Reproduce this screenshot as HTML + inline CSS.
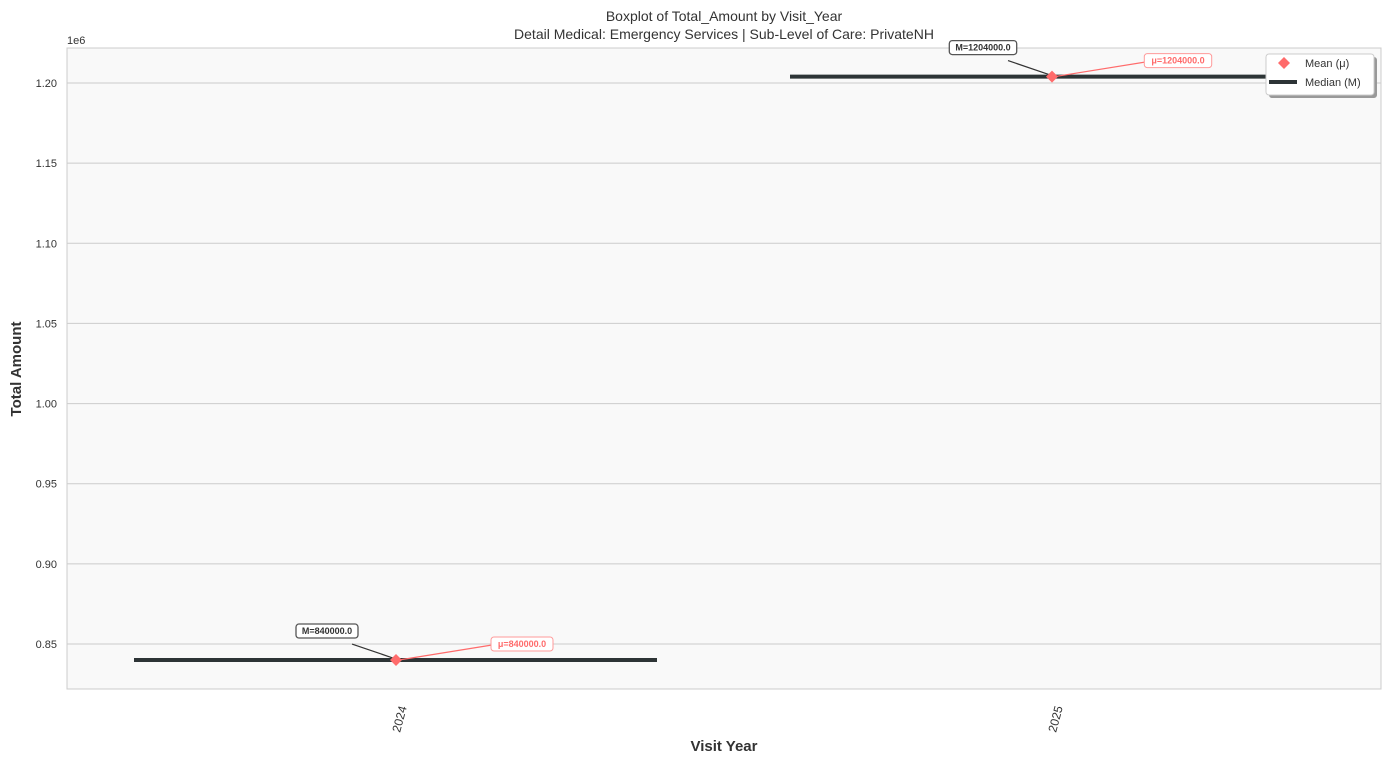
<!DOCTYPE html>
<html><head><meta charset="utf-8"><style>
body{margin:0;background:#fff;font-family:"Liberation Sans",sans-serif}
svg text{font-family:"Liberation Sans",sans-serif}
</style></head><body>
<svg id="c" width="1389" height="763" xmlns="http://www.w3.org/2000/svg">
<rect x="67" y="48" width="1314" height="641" fill="#f9f9f9" stroke="#cccccc"/>
<g id="grid"></g><g id="marks"></g>
<text x="724" y="21" text-anchor="middle" font-size="14" fill="#333">Boxplot of Total_Amount by Visit_Year</text>
<text x="724" y="39" text-anchor="middle" font-size="14" fill="#333">Detail Medical: Emergency Services | Sub-Level of Care: PrivateNH</text>
<text x="67" y="44" font-size="11" fill="#333">1e6</text>
<text x="724" y="751" text-anchor="middle" font-size="15" font-weight="bold" fill="#333">Visit Year</text>
<text transform="translate(21,369) rotate(-90)" text-anchor="middle" font-size="15" font-weight="bold" fill="#333">Total Amount</text>
<g>
<rect x="1269" y="57" width="108" height="41" rx="3" fill="#999"/>
<rect x="1266" y="54" width="108" height="41" rx="3" fill="#fff" stroke="#ccc"/>
<path d="M1284 57 L1290 63 L1284 69 L1278 63Z" fill="#ff6b6b"/>
<text x="1305" y="67" font-size="11" fill="#333">Mean (μ)</text>
<line x1="1269" y1="82" x2="1297" y2="82" stroke="#2d3436" stroke-width="4"/>
<text x="1305" y="86" font-size="11" fill="#333">Median (M)</text>
</g>
</svg>
<script>
const categories=["2024","2025"];
const medians=[840000,1204000];
const means=[840000,1204000];
const yTicks=[850000,900000,950000,1000000,1050000,1100000,1150000,1200000];
const NS="http://www.w3.org/2000/svg";
function y(v){return 83+(1200000-v)/50000*80.143;}
function x(i){return 396+i*656;}
const grid=document.getElementById('grid'),marks=document.getElementById('marks');
function mk(p,t,a,txt){const e=document.createElementNS(NS,t);for(const k in a)e.setAttribute(k,a[k]);if(txt!==undefined)e.textContent=txt;p.appendChild(e);return e;}
yTicks.forEach(v=>{
 const l=mk(grid,'line',{x1:67,x2:1381,y1:y(v),y2:y(v),stroke:'#cccccc'});
 
 
 const t=mk(grid,'text',{x:57,y:y(v)+4,'text-anchor':'end','font-size':11,fill:'#333'},(v/1e6).toFixed(2));
 
 
});
categories.forEach((c,i)=>{
 const cx=x(i);
 const t=mk(marks,'text',{transform:`translate(${cx+4},733) rotate(-75)`,'font-size':12,fill:'#333'},c);
 
 
 const ym=y(medians[i]);
 const m=mk(marks,'line',{x1:cx-262,x2:cx+261,y1:ym,y2:ym,stroke:'#2d3436','stroke-width':4});
 
 
 const ya=y(means[i]);
 mk(marks,'line',{x1:cx-44,y1:ym-16,x2:cx-3,y2:ym-2,stroke:'#333','stroke-width':1.2});
 mk(marks,'line',{x1:cx+96,y1:ya-15,x2:cx+3,y2:ya,stroke:'#ff6b6b','stroke-width':1.2});
 const mt='M='+medians[i].toFixed(1), at='μ='+means[i].toFixed(1);
 const w1=mt.length*5.4+8,w2=at.length*5.4+8;
 const g1=mk(marks,'g',{});
 
 
 mk(g1,'rect',{x:cx-69-w1/2,y:ym-36,width:w1,height:14,rx:3,fill:'#fff',stroke:'#555','stroke-width':1.3});
 mk(g1,'text',{x:cx-69,y:ym-26,'text-anchor':'middle','font-size':9,'font-weight':'bold',fill:'#333'},mt);
 const g2=mk(marks,'g',{});
 
 
 mk(g2,'rect',{x:cx+126-w2/2,y:ya-23,width:w2,height:14,rx:3,fill:'#fff',stroke:'#ff9a9a'});
 mk(g2,'text',{x:cx+126,y:ya-13,'text-anchor':'middle','font-size':9,'font-weight':'bold',fill:'#ff6b6b'},at);
 const d=mk(marks,'path',{d:`M${cx} ${ya-6} L${cx+6} ${ya} L${cx} ${ya+6} L${cx-6} ${ya}Z`,fill:'#ff6b6b'});
 
 
});
</script>
</body></html>
